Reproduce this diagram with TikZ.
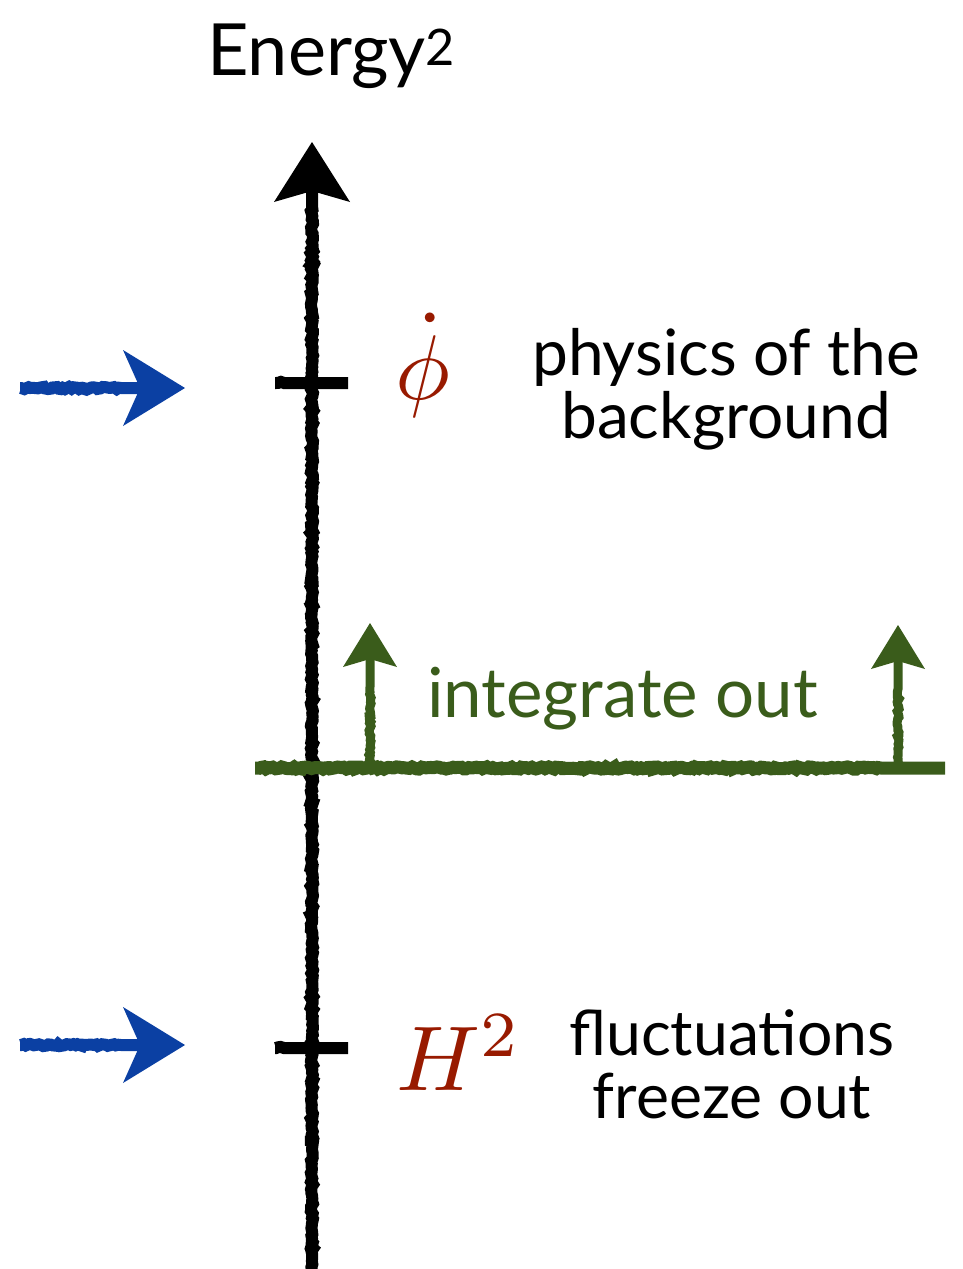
\documentclass[tikz,border=0pt]{standalone}
\usepackage[no-math]{fontspec}
\newfontfamily\slidefont{Lato}
\usetikzlibrary{arrows.meta,positioning,decorations.pathmorphing}
\definecolor{ChalkBlue}{HTML}{0B40A3}
\definecolor{ChalkGreen}{HTML}{3A5C1B}
\definecolor{ScaleRed}{HTML}{981A00}

\begin{document}
\begin{tikzpicture}[x=1pt, y=-1pt,
  chalk/.style={line width=12pt, decorate,
    decoration={random steps, segment length=2.5pt, amplitude=1.1pt, pre length=1pt, post length=64pt}},
  thinchalk/.style={chalk, line width=9pt},
  axishead/.style={-{Stealth[length=60pt, width=76pt, inset=11pt, line width=0pt]}},
  pointer/.style={chalk, draw=ChalkBlue, -{Stealth[length=62pt, width=76pt, inset=17pt, line width=0pt]}},
  raise/.style={thinchalk, draw=ChalkGreen, -{Stealth[length=44pt, width=54pt, inset=8pt, line width=0pt]}},
  caption/.style={font=\slidefont\fontsize{#1}{63}\selectfont, align=center, inner sep=0pt},
  caption/.default=64,
  scalelabel/.style={text=ScaleRed, font=\normalsize, scale=9.2, inner sep=0pt}
]
\useasboundingbox (0,0) rectangle (962,1269);

% energy axis
\node[caption=72, anchor=base west] (title) at (207,75) {Energy\textsuperscript{2}};
\coordinate (axisfoot) at (312,1285);
\coordinate (axistop) at (312,142);
\draw[chalk, axishead] (axisfoot) -- (axistop);

% background scale
\coordinate (phitickL) at (275,383);
\coordinate (phitickR) at (348,383);
\draw[chalk] (phitickL) -- (phitickR);
\coordinate (phitail) at (20,388);
\coordinate (phitip) at (185,388);
\draw[pointer] (phitail) -- (phitip);
\node[scalelabel, anchor=base] (phidot) at (423,399) {$\dot\phi$};
\node[caption, anchor=base] (bgtext) at (726,438) {physics of the\\background};

% cutoff
\coordinate (cutL) at (255,768);
\coordinate (cutR) at (945,768);
\draw[chalk, draw=ChalkGreen, line width=13pt] (cutL) -- (cutR);
\coordinate (upLfoot) at (370,768);
\coordinate (upLtip) at (370,623);
\coordinate (upRfoot) at (898,768);
\coordinate (upRtip) at (898,625);
\draw[raise] (upLfoot) -- (upLtip);
\draw[raise] (upRfoot) -- (upRtip);
\node[caption=69, text=ChalkGreen, anchor=base west] (cuttext) at (427,717) {integrate out};

% horizon scale
\coordinate (htickL) at (275,1048);
\coordinate (htickR) at (348,1048);
\draw[chalk] (htickL) -- (htickR);
\coordinate (htail) at (20,1045);
\coordinate (htip) at (185,1045);
\draw[pointer] (htail) -- (htip);
\node[scalelabel, anchor=base west] (hsq) at (395,1090) {$H^2$};
\node[caption=62.5, anchor=base] (fltext) at (732,1118) {fluctuations\\freeze out};
\end{tikzpicture}
\end{document}
